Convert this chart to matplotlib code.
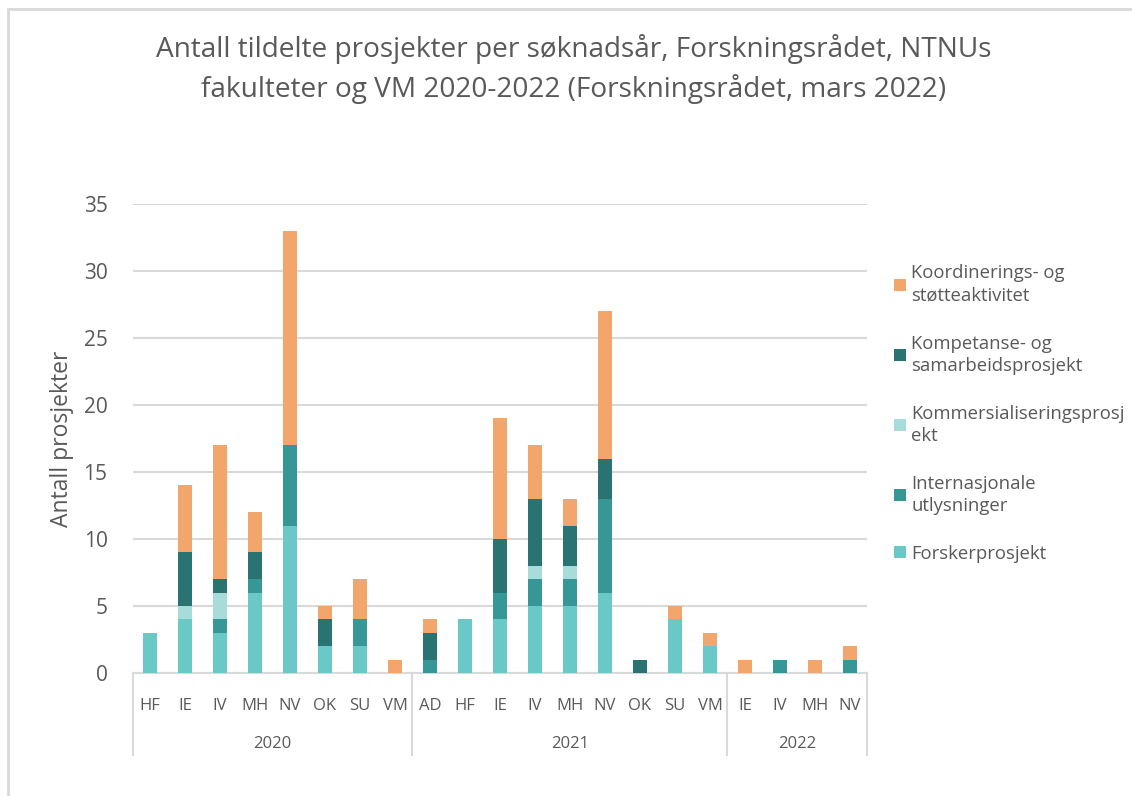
import numpy as np
import matplotlib
matplotlib.use("Agg")
from matplotlib import pyplot as plt
from matplotlib.patches import Patch, Rectangle
import matplotlib.transforms as mtransforms

plt.rcParams['font.family'] = ['Open Sans', 'DejaVu Sans']

# categories: faculty per application year
years = ["2020", "2021", "2022"]
fac2020 = ["HF", "IE", "IV", "MH", "NV", "OK", "SU", "VM"]
fac2021 = ["AD", "HF", "IE", "IV", "MH", "NV", "OK", "SU", "VM"]
fac2022 = ["IE", "IV", "MH", "NV"]
faculties = fac2020 + fac2021 + fac2022

# number of projects per type (stacked bottom to top)
forsker = [3, 4, 3, 6, 11, 2, 2, 0,
           0, 4, 4, 5, 5, 6, 0, 4, 2,
           0, 0, 0, 0]
internasjonale = [0, 0, 1, 1, 6, 0, 2, 0,
                  1, 0, 2, 2, 2, 7, 0, 0, 0,
                  0, 1, 0, 1]
kommersialisering = [0, 1, 2, 0, 0, 0, 0, 0,
                     0, 0, 0, 1, 1, 0, 0, 0, 0,
                     0, 0, 0, 0]
kompetanse = [0, 4, 1, 2, 0, 2, 0, 0,
              2, 0, 4, 5, 3, 3, 1, 0, 0,
              0, 0, 0, 0]
koordinering = [0, 5, 10, 3, 16, 1, 3, 1,
                1, 0, 9, 4, 2, 11, 0, 1, 1,
                1, 0, 1, 1]

series = [
    ("Forskerprosjekt", forsker, "#6ac8c6"),
    ("Internasjonale\nutlysninger", internasjonale, "#379696"),
    ("Kommersialiseringsprosj\nekt", kommersialisering, "#a8dcdb"),
    ("Kompetanse- og\nsamarbeidsprosjekt", kompetanse, "#2a7373"),
    ("Koordinerings- og\nstøtteaktivitet", koordinering, "#f2a66b"),
]

grey_txt = "#595959"
grey_line = "#d9d9d9"
W, H = 1132, 796

fig = plt.figure(figsize=(W / 100, H / 100), dpi=100)
ax = fig.add_axes([132.5 / W, 1 - 673 / H, 735 / W, 469 / H])

x = np.arange(len(faculties))
bottom = np.zeros(len(faculties))
handles = []
for name, vals, col in series:
    vals = np.array(vals, dtype=float)
    ax.bar(x, vals, 0.4, bottom=bottom, color=col, zorder=3)
    bottom += vals
    handles.append(Patch(facecolor=col, label=name))

ax.set_xlim(-0.5, len(faculties) - 0.5)
ax.set_ylim(0, 35)
ax.set_yticks(range(0, 36, 5))
ax.yaxis.grid(True, color=grey_line, linewidth=1.5)
ax.set_axisbelow(True)
for s in ["top", "right", "left"]:
    ax.spines[s].set_visible(False)
ax.spines["bottom"].set_color(grey_line)
ax.spines["bottom"].set_linewidth(1.5)
ax.tick_params(axis="y", length=0, pad=18, labelsize=15, labelcolor=grey_txt)
ax.set_xticks(x)
ax.set_xticklabels(faculties)
ax.tick_params(axis="x", length=0, pad=18, labelsize=12, labelcolor=grey_txt)
ax.set_ylabel("Antall prosjekter", fontsize=16.5, color=grey_txt, labelpad=7)

# year groups below the faculty labels
trans = mtransforms.blended_transform_factory(ax.transData, ax.transAxes)
low = -(755 - 673) / 469
bounds = [-0.5, len(fac2020) - 0.5, len(fac2020) + len(fac2021) - 0.5, len(faculties) - 0.5]
for b in bounds:
    ax.plot([b, b], [0, low], transform=trans, color=grey_line, lw=1.5, clip_on=False)
for i, yr in enumerate(years):
    ax.text((bounds[i] + bounds[i + 1]) / 2, -(744 - 673) / 469, yr, transform=trans,
            ha="center", va="center", fontsize=12, color=grey_txt)

leg = fig.legend(handles=handles[::-1], loc="upper left",
                 bbox_to_anchor=(887 / W, 1 - 257 / H), frameon=False,
                 fontsize=13.3, labelcolor=grey_txt, handlelength=0.62, handleheight=0.62,
                 handletextpad=0.3, labelspacing=1.62, borderaxespad=0)
for t in leg.get_texts():
    t.set_linespacing(1.3)

fig.text(574 / W, 1 - 69 / H,
         "Antall tildelte prosjekter per søknadsår, Forskningsrådet, NTNUs\n"
         "fakulteter og VM 2020-2022 (Forskningsrådet, mars 2022)",
         ha="center", va="center", fontsize=20.2, color=grey_txt, linespacing=1.45)

# chart frame
fig.patches.append(Rectangle((7.5 / W, -0.1), 1.2, 1 - 8.5 / H + 0.1,
                             transform=fig.transFigure, fill=False,
                             edgecolor=grey_line, lw=2))

fig.savefig("out.png", dpi=100)
